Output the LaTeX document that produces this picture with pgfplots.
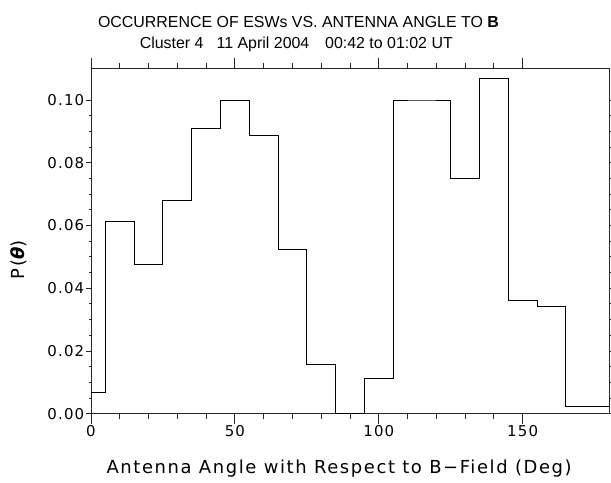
\documentclass[border=0pt]{standalone}
\usepackage{fontspec}
\setmainfont{Liberation Sans}
\newfontfamily\hershey[LetterSpace=8]{DejaVu Sans}
\newfontfamily\hersheyL[LetterSpace=9]{DejaVu Sans}
\usepackage{pgfplots}
\pgfplotsset{compat=1.18}
\begin{document}
\begin{tikzpicture}
\useasboundingbox (0,0) rectangle (611bp,483bp);
\begin{axis}[
  at={(91bp,69.3bp)}, anchor=south west,
  scale only axis, width=518bp, height=345.7bp,
  xmin=0, xmax=180, ymin=0, ymax=0.1102,
  xtick={0,50,100,150}, minor x tick num=4,
  ytick={0,0.02,0.04,0.06,0.08,0.10}, minor y tick num=3,
  tick align=outside,
  axis line style={black!85, line width=0.9bp},
  xtick style={black!85, line width=0.9bp, /pgfplots/major tick length=10bp, /pgfplots/minor tick length=5bp},
  ytick style={black!85, line width=0.9bp, /pgfplots/major tick length=5bp, /pgfplots/minor tick length=2.5bp},
  /pgf/number format/assume math mode=true,
  ticklabel style={font=\hershey\fontsize{15}{17}\selectfont},
  xticklabel style={yshift=-3.5bp},
  yticklabel style={xshift=1bp, /pgf/number format/fixed, /pgf/number format/fixed zerofill, /pgf/number format/precision=2},
  scaled y ticks=false,
  xlabel={Antenna Angle with Respect to B−Field (Deg)},
  xlabel style={font=\hersheyL\fontsize{18}{20}\selectfont, at={(axis description cs:0.479,-0.1744)}, anchor=base},
  ylabel={P({\bfseries\itshape θ})},
  ylabel style={font=\hersheyL\fontsize{18}{20}\selectfont, at={(axis description cs:-0.1293,0.4446)}, anchor=base},
]
\addplot[const plot mark left, black, line width=0.9bp] coordinates {
(0,0.0068) (5,0.0613) (15,0.0477) (25,0.0681) (35,0.0910) (45,0.1000)
(55,0.0887) (65,0.0522) (75,0.0158) (85,0.0000) (95,0.0113) (105,0.1000)
(115,0.1000) (125,0.0750) (135,0.1068) (145,0.0362) (155,0.0341)
(165,0.0022) (175,0.0022) (180,0.0022)
};
\end{axis}
\node[anchor=base, font=\fontsize{16}{18}\selectfont] at (298.5bp,455.7bp) {OCCURRENCE OF ESWs VS. ANTENNA ANGLE TO \textbf{B}};
\node[anchor=base, font=\fontsize{16}{18}\selectfont] at (171.7bp,434.7bp) {Cluster 4};
\node[anchor=base, font=\fontsize{16}{18}\selectfont] at (263bp,434.7bp) {11 April 2004};
\node[anchor=base, font=\fontsize{16}{18}\selectfont] at (389bp,434.7bp) {00:42 to 01:02 UT};
\end{tikzpicture}
\end{document}
